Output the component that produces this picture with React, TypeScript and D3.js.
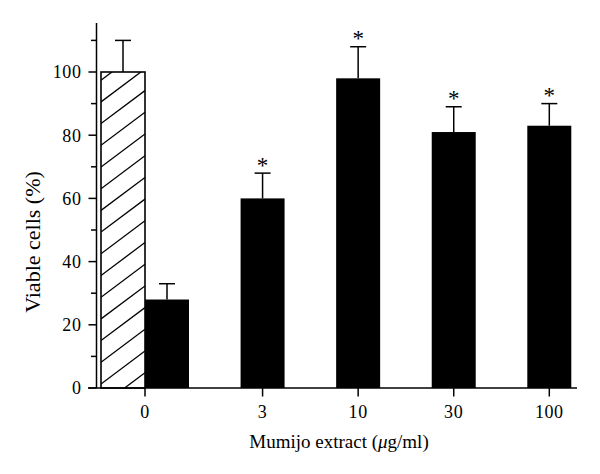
import React from "react";
import * as d3 from "d3";

const categories = ["0", "3", "10", "30", "100"];
const treatedValues = [28, 60, 98, 81, 83];
const treatedErrors = [5, 8, 10, 8, 7];
const significant = [false, true, true, true, true];
const controlValue = 100;
const controlError = 10;
const majorTicks = [0, 20, 40, 60, 80, 100];
const minorTicks = [10, 30, 50, 70, 90, 110];

const W = 600;
const H = 474;
const axisX = 96.5;
const axisY = 388;
const barW = 44;

export default function App() {
  const y = d3.scaleLinear().domain([0, 100]).range([axisY, 72]);
  const x = d3.scalePoint<string>().domain(categories).range([167, 549.3]);

  const ctrlX0 = (x("0") as number) - barW * 1.5;
  const ctrlTop = y(controlValue);
  const ctrlH = axisY - ctrlTop;

  const slope = 0.75;
  const spacing = 21.7;
  const hatchOffsets = d3.range(-3, Math.ceil(ctrlH / spacing) + 4);

  const font = "'Liberation Serif', 'DejaVu Serif', serif";

  return (
    <svg width={W} height={H} style={{ position: "absolute", left: 0, top: 0, background: "#fff" }}>
      <defs>
        <clipPath id="ctrlClip">
          <rect x={ctrlX0} y={ctrlTop} width={barW} height={ctrlH} />
        </clipPath>
      </defs>

      <g clipPath="url(#ctrlClip)">
        {hatchOffsets.map((k) => {
          const yl = axisY - 4 - k * spacing;
          return (
            <line
              key={k}
              x1={ctrlX0}
              y1={yl}
              x2={ctrlX0 + barW}
              y2={yl - barW * slope}
              stroke="#000"
              strokeWidth={1.3}
            />
          );
        })}
      </g>
      <rect x={ctrlX0} y={ctrlTop} width={barW} height={ctrlH} fill="none" stroke="#000" strokeWidth={1.6} />
      <line x1={ctrlX0 + barW / 2} x2={ctrlX0 + barW / 2} y1={ctrlTop} y2={y(controlValue + controlError)} stroke="#000" strokeWidth={1.5} />
      <line x1={ctrlX0 + barW / 2 - 8} x2={ctrlX0 + barW / 2 + 8} y1={y(controlValue + controlError)} y2={y(controlValue + controlError)} stroke="#000" strokeWidth={1.5} />

      {categories.map((c, i) => {
        const cx = x(c) as number;
        const v = treatedValues[i];
        const eTop = y(v + treatedErrors[i]);
        return (
          <g key={c}>
            <rect x={cx - barW / 2} y={y(v)} width={barW} height={axisY - y(v)} fill="#000" />
            <line x1={cx} x2={cx} y1={y(v)} y2={eTop} stroke="#000" strokeWidth={1.5} />
            <line x1={cx - 8} x2={cx + 8} y1={eTop} y2={eTop} stroke="#000" strokeWidth={1.5} />
            {significant[i] && (
              <text x={cx} y={eTop - 0.5} textAnchor="middle" fontFamily={font} fontSize={23} fill="#000">
                *
              </text>
            )}
          </g>
        );
      })}

      <line x1={axisX} x2={axisX} y1={y(115.5)} y2={axisY} stroke="#000" strokeWidth={1.5} />
      {majorTicks.map((t) => (
        <g key={"M" + t}>
          <line x1={axisX - 8} x2={axisX} y1={y(t)} y2={y(t)} stroke="#000" strokeWidth={1.5} />
          <text x={81.5} y={y(t) + 6.3} textAnchor="end" fontFamily={font} fontSize={18} letterSpacing={0.6} fill="#000">
            {t}
          </text>
        </g>
      ))}
      {minorTicks.map((t) => (
        <line key={"m" + t} x1={axisX - 5.5} x2={axisX} y1={y(t)} y2={y(t)} stroke="#000" strokeWidth={1.5} />
      ))}

      <line x1={88} x2={577} y1={axisY} y2={axisY} stroke="#000" strokeWidth={1.5} />
      {categories.map((c, i) => {
        const tx = i === 0 ? (x(c) as number) - barW / 2 : (x(c) as number);
        return (
          <g key={"t" + c}>
            <line x1={tx} x2={tx} y1={axisY} y2={axisY + 8.5} stroke="#000" strokeWidth={1.5} />
            <text x={tx} y={418} textAnchor="middle" fontFamily={font} fontSize={18} letterSpacing={0.6} fill="#000">
              {c}
            </text>
          </g>
        );
      })}

      <text x={339} y={447.5} textAnchor="middle" fontFamily={font} fontSize={19} fill="#000">
        Mumijo extract (<tspan fontStyle="italic">μ</tspan>g/ml)
      </text>
      <text
        transform={`translate(40,242) rotate(-90)`}
        textAnchor="middle"
        fontFamily={font}
        fontSize={22}
        fill="#000"
      >
        Viable cells (%)
      </text>
    </svg>
  );
}
